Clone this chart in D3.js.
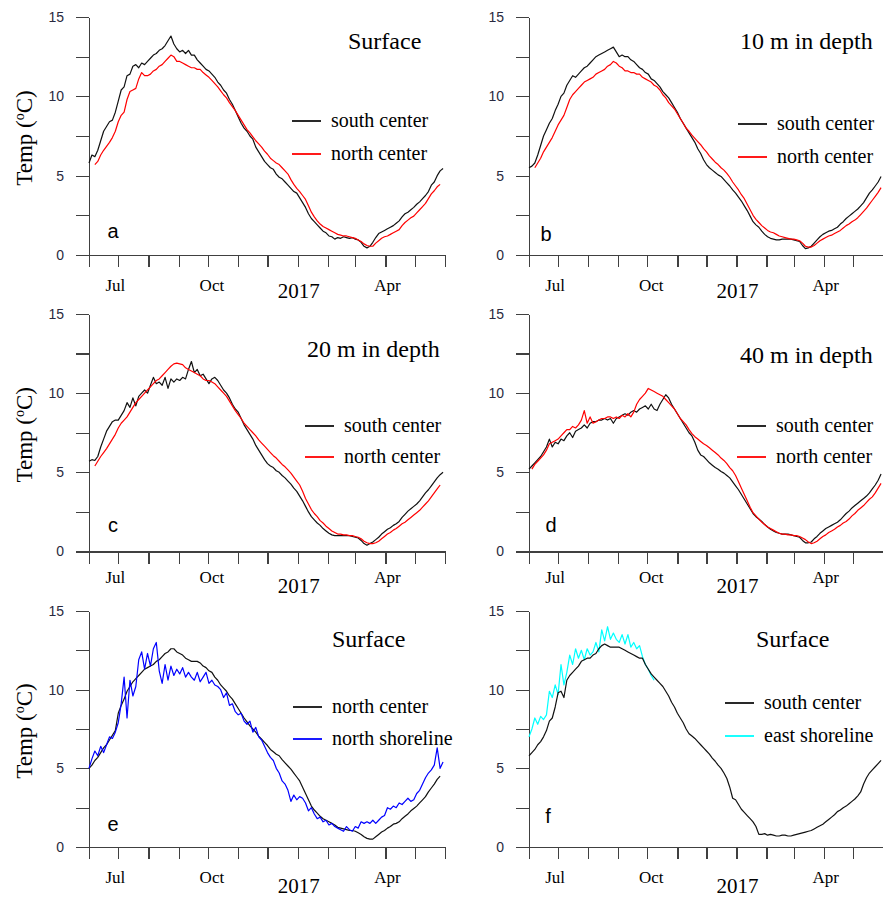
<!DOCTYPE html>
<html>
<head>
<meta charset="utf-8">
<script src="https://cdn.jsdelivr.net/npm/d3@7"></script>
<style>
  body { margin: 0; background: #fff; }
  .axis path, .axis line { stroke: #404040; stroke-width: 1.3; shape-rendering: crispEdges; }
  .axis text { font-family: "Liberation Sans", Arial, sans-serif; font-size: 14px; fill: #2a2a40; }
  .serif { font-family: "Liberation Serif", "Times New Roman", serif; fill: #000; }
</style>
</head>
<body>
<svg width="883" height="899"></svg>
<script>
// sampling days (days after 1 Jun 2016)
var sampleDays = [0,3,6,9,12,15,18,21,24,27, 30,33,36,39,42,45,48,51,54,57,
  60,63,66,69,72,75,78,81,84,87, 90,93,96,99,102,105,108,111,114,117,
  120,123,126,129,132,135,138,141,144,147, 150,153,156,159,162,165,168,171,174,177,
  180,183,186,189,192,195,198,201,204,207, 210,213,216,219,222,225,228,231,234,237,
  240,243,246,249,252,255,258,261,264,267, 270,273,276,279,282,285,288,291,294,297,
  300,303,306,309,312,315,318,321,324,327, 330,333,336,339,342,345,348,351,354,357,
  360,363];

// temperatures (degC)
var southA = [5.8,6.3,6.2,6.6,7.2,7.8,8.1,8.4,8.5,9.0, 9.7,10.4,10.6,11.3,11.4,11.9,12.0,11.8,12.1,12.0,
  12.2,12.4,12.6,12.7,12.9,13.0,13.2,13.5,13.8,13.3, 13.0,12.8,12.9,12.7,12.9,12.6,12.6,12.3,12.1,11.9,
  11.7,11.6,11.4,11.2,10.9,10.7,10.4,10.2,9.8,9.5, 9.1,8.7,8.3,8.0,7.8,7.5,7.3,6.8,6.5,6.2,
  5.9,5.7,5.5,5.4,5.1,4.9,4.8,4.6,4.4,4.2, 4.0,3.9,3.6,3.3,3.0,2.6,2.3,2.1,1.9,1.7,
  1.5,1.4,1.2,1.15,1.0,1.1,1.05,1.15,1.1,1.05, 1.1,1.0,0.95,0.8,0.55,0.45,0.55,0.8,1.1,1.35,
  1.45,1.55,1.65,1.75,1.85,2.0,2.15,2.4,2.6,2.7, 2.85,3.0,3.2,3.35,3.55,3.75,4.0,4.4,4.6,5.0,
  5.3,5.45];
var northA = [null,null,5.7,5.9,6.3,6.6,6.85,7.1,7.4,7.8, 8.4,8.8,9.0,9.8,10.3,10.4,10.5,11.1,11.5,11.3,
  11.3,11.4,11.6,11.7,11.9,12.0,12.2,12.4,12.6,12.5, 12.2,12.2,12.1,12.0,11.9,11.8,11.8,11.7,11.7,11.5,
  11.35,11.2,11.0,10.8,10.6,10.35,10.1,9.9,9.6,9.35, 9.1,8.8,8.5,8.2,7.9,7.7,7.45,7.2,7.0,6.8,
  6.55,6.35,6.1,5.95,5.8,5.7,5.5,5.3,5.1,4.75, 4.45,4.2,4.0,3.75,3.5,3.1,2.7,2.4,2.15,1.95,
  1.8,1.7,1.6,1.5,1.4,1.3,1.25,1.2,1.2,1.15, 1.1,1.05,0.95,0.85,0.7,0.6,0.55,0.55,0.75,0.9,
  1.05,1.15,1.2,1.3,1.4,1.5,1.6,1.85,2.05,2.2, 2.35,2.45,2.65,2.85,3.05,3.25,3.55,3.85,4.05,4.3,
  4.45,null];

var southB = [5.5,5.6,5.8,6.3,6.9,7.5,7.9,8.3,8.6,9.1, 9.5,10.0,10.2,10.7,11.0,11.3,11.2,11.4,11.6,11.8,
  11.9,12.1,12.3,12.5,12.6,12.7,12.8,12.9,13.0,13.1, 12.8,12.5,12.6,12.5,12.5,12.3,12.2,12.0,11.8,11.7,
  11.5,11.4,11.1,11.0,10.8,10.6,10.3,10.1,9.9,9.6, 9.3,9.0,8.6,8.3,8.0,7.7,7.4,7.1,6.7,6.4,
  6.0,5.7,5.5,5.35,5.2,5.05,4.95,4.75,4.55,4.35, 4.1,3.9,3.65,3.4,3.1,2.8,2.45,2.1,1.9,1.75,
  1.5,1.3,1.15,1.05,1.0,0.95,0.95,1.0,1.0,1.0, 1.0,0.95,0.9,0.85,0.6,0.4,0.45,0.55,0.75,0.95,
  1.15,1.3,1.4,1.5,1.55,1.65,1.75,1.95,2.1,2.3, 2.45,2.6,2.75,2.9,3.1,3.3,3.6,3.9,4.1,4.35,
  4.6,4.95];
var northB = [null,null,5.5,5.8,6.1,6.5,6.8,7.1,7.4,7.8, 8.2,8.5,8.8,9.3,9.8,10.1,10.3,10.5,10.7,10.9,
  11.0,11.1,11.2,11.4,11.5,11.6,11.7,11.9,12.0,12.2, 12.1,11.9,11.8,11.6,11.6,11.5,11.5,11.4,11.4,11.2,
  11.1,11.0,10.9,10.7,10.6,10.4,10.1,9.9,9.6,9.4, 9.2,8.9,8.6,8.3,8.0,7.8,7.55,7.35,7.15,6.95,
  6.7,6.5,6.25,6.05,5.85,5.7,5.5,5.35,5.15,4.9, 4.6,4.35,4.1,3.8,3.55,3.2,2.85,2.5,2.25,2.05,
  1.85,1.7,1.55,1.45,1.4,1.3,1.2,1.15,1.1,1.05, 1.0,1.0,0.95,0.9,0.75,0.55,0.5,0.5,0.6,0.75,
  0.9,1.0,1.1,1.2,1.25,1.35,1.45,1.55,1.7,1.85, 1.95,2.1,2.2,2.35,2.55,2.75,2.95,3.2,3.45,3.7,
  3.95,4.25];

var southC = [5.7,5.8,5.75,6.0,6.6,7.1,7.6,7.9,8.2,8.3, 8.3,8.6,8.9,9.4,9.1,9.7,9.2,9.8,10.0,10.2,
  10.0,10.5,11.0,10.6,10.7,10.5,11.0,10.3,10.9,10.7, 10.9,10.8,11.0,10.9,11.5,12.0,11.3,11.5,11.1,11.2,
  10.9,10.6,10.9,11.0,10.8,10.5,10.2,10.0,9.7,9.3, 9.0,8.8,8.4,8.0,7.7,7.4,7.1,6.7,6.4,6.1,
  5.8,5.55,5.4,5.3,5.1,5.0,4.8,4.65,4.45,4.25, 4.0,3.8,3.5,3.2,2.85,2.5,2.2,2.0,1.8,1.65,
  1.45,1.3,1.15,1.05,1.0,1.0,1.0,1.0,1.0,1.0, 0.95,0.9,0.85,0.7,0.5,0.4,0.5,0.6,0.75,0.9,
  1.1,1.25,1.4,1.5,1.65,1.75,1.9,2.15,2.35,2.55, 2.7,2.85,3.0,3.2,3.45,3.7,3.9,4.15,4.4,4.65,
  4.85,5.0];
var northC = [null,null,5.4,5.7,6.0,6.25,6.5,6.8,7.1,7.4, 7.8,8.1,8.3,8.5,8.8,9.1,9.4,9.6,9.8,10.0,
  10.2,10.4,10.6,10.8,10.9,11.1,11.3,11.5,11.7,11.85, 11.9,11.85,11.8,11.6,11.5,11.4,11.3,11.2,11.1,10.9,
  10.8,10.8,10.7,10.6,10.4,10.2,10.0,9.8,9.5,9.2, 8.9,8.65,8.4,8.1,7.9,7.7,7.5,7.3,7.05,6.85,
  6.65,6.45,6.25,6.05,5.9,5.7,5.5,5.35,5.15,4.95, 4.7,4.45,4.2,3.8,3.35,3.0,2.65,2.4,2.2,1.95,
  1.8,1.6,1.45,1.3,1.2,1.1,1.1,1.05,1.05,1.0, 1.0,0.95,0.9,0.8,0.65,0.55,0.5,0.5,0.55,0.65,
  0.8,0.95,1.1,1.2,1.35,1.45,1.6,1.75,1.85,2.0, 2.15,2.3,2.45,2.6,2.8,3.0,3.2,3.45,3.7,3.95,
  4.2,null];

var southD = [5.2,5.4,5.6,5.8,6.0,6.3,6.6,7.1,6.6,6.9, 6.8,7.1,7.0,7.3,7.5,7.2,7.6,7.7,7.8,8.0,
  7.8,8.1,8.2,8.2,8.3,8.3,8.4,8.3,8.4,8.1, 8.4,8.5,8.6,8.7,8.6,8.8,8.9,8.8,9.0,9.1,
  9.2,9.0,9.3,9.0,8.9,9.3,9.6,9.9,9.7,9.3, 9.0,8.7,8.4,8.1,7.8,7.5,7.3,6.9,6.4,6.1,
  6.0,5.8,5.6,5.45,5.3,5.2,5.05,4.95,4.8,4.65, 4.4,4.15,3.9,3.6,3.3,3.0,2.7,2.4,2.2,2.05,
  1.9,1.7,1.55,1.4,1.3,1.2,1.15,1.1,1.1,1.1, 1.05,1.0,0.95,0.9,0.7,0.55,0.55,0.6,0.8,0.95,
  1.15,1.3,1.45,1.55,1.65,1.75,1.85,2.0,2.2,2.4, 2.55,2.75,2.9,3.05,3.2,3.35,3.5,3.7,3.95,4.2,
  4.5,4.9];
var northD = [null,5.2,5.5,5.7,5.9,6.1,6.4,6.8,6.9,7.0, 7.1,7.3,7.5,7.7,7.7,7.9,7.8,8.0,8.3,8.9,
  8.1,8.5,8.1,8.2,8.3,8.4,8.4,8.5,8.5,8.4, 8.5,8.4,8.6,8.5,8.7,8.5,8.8,9.3,9.6,9.8,
  10.0,10.3,10.2,10.1,10.0,9.9,9.8,9.6,9.4,9.2, 9.0,8.7,8.4,8.2,8.0,7.7,7.45,7.25,7.1,6.95,
  6.8,6.7,6.55,6.4,6.25,6.1,5.9,5.75,5.55,5.3, 5.1,4.8,4.4,4.0,3.6,3.2,2.8,2.45,2.25,2.05,
  1.85,1.7,1.55,1.45,1.35,1.25,1.15,1.1,1.1,1.05, 1.05,1.0,1.0,0.95,0.85,0.75,0.6,0.5,0.55,0.65,
  0.8,0.95,1.05,1.2,1.3,1.4,1.55,1.65,1.8,1.9, 2.05,2.25,2.4,2.6,2.75,2.9,3.1,3.3,3.45,3.7,
  4.0,4.3];

var northE = [5.0,5.2,5.5,5.7,6.0,6.3,6.5,6.8,7.1,7.4, 8.5,9.0,9.4,9.9,10.2,10.5,10.7,10.9,11.1,11.3,
  11.4,11.5,11.6,11.8,11.9,12.1,12.3,12.4,12.6,12.6, 12.4,12.3,12.2,12.0,11.9,11.8,11.8,11.8,11.7,11.5,
  11.4,11.2,11.1,10.8,10.6,10.3,10.1,9.9,9.6,9.4, 9.1,8.8,8.5,8.2,7.95,7.7,7.5,7.3,7.05,6.85,
  6.65,6.45,6.2,6.05,5.9,5.8,5.55,5.35,5.15,4.95, 4.7,4.45,4.2,3.8,3.4,3.0,2.6,2.35,2.15,1.95,
  1.8,1.7,1.6,1.5,1.4,1.25,1.2,1.15,1.1,1.05, 1.05,1.0,0.9,0.8,0.65,0.55,0.5,0.5,0.65,0.8,
  0.95,1.05,1.2,1.3,1.45,1.5,1.6,1.8,1.95,2.1, 2.3,2.45,2.6,2.8,3.0,3.2,3.5,3.75,4.0,4.3,
  4.5,null];
var shoreE = [5.0,5.6,6.1,5.8,6.4,6.0,6.5,7.0,6.9,7.3, 7.9,9.1,10.8,8.2,10.6,9.6,10.2,11.9,12.4,11.3,
  12.3,11.5,12.6,13.0,11.2,10.4,11.6,10.6,11.5,10.9, 11.3,11.0,11.4,10.8,11.1,10.8,10.6,11.1,10.5,10.8,
  11.1,10.4,10.6,10.3,10.2,10.0,9.5,9.8,9.0,9.1, 8.6,8.4,8.5,8.0,7.8,8.0,7.3,7.6,7.0,6.8,
  6.4,6.0,5.7,5.5,5.0,4.7,4.2,4.0,3.6,2.9, 3.3,3.0,3.2,3.1,2.8,2.3,2.5,2.1,1.8,1.9,
  1.6,1.7,1.4,1.5,1.3,1.2,1.1,1.0,1.3,1.1, 1.0,1.3,1.2,1.6,1.5,1.6,1.5,1.7,1.5,1.7,
  1.9,2.0,2.5,2.4,2.6,2.5,2.8,2.7,2.9,3.1, 2.9,3.0,3.4,3.6,4.0,4.4,4.7,4.9,5.2,6.3,
  5.0,5.4];

var southF = [5.8,6.0,6.2,6.5,6.7,7.0,7.4,8.0,8.2,8.9, 9.8,9.9,9.5,10.6,10.9,11.1,11.3,11.5,11.8,11.9,
  12.0,12.0,12.2,12.3,12.6,12.8,12.9,12.8,12.7,12.7, 12.7,12.7,12.6,12.5,12.4,12.3,12.2,12.1,12.0,12.0,
  11.6,11.3,11.0,10.8,10.6,10.4,10.2,9.9,9.6,9.2, 8.9,8.5,8.2,7.9,7.5,7.2,7.05,6.9,6.7,6.5,
  6.3,6.1,5.9,5.65,5.45,5.2,5.0,4.7,4.35,3.8, 3.1,3.0,2.7,2.4,2.2,2.0,1.8,1.6,1.3,0.8,
  0.8,0.85,0.75,0.8,0.75,0.7,0.7,0.75,0.75,0.7, 0.7,0.75,0.8,0.85,0.9,0.95,1.0,1.05,1.15,1.25,
  1.35,1.45,1.6,1.75,1.9,2.05,2.25,2.35,2.5,2.6, 2.75,2.9,3.05,3.25,3.5,4.0,4.4,4.7,4.9,5.1,
  5.3,5.5];
var shoreF = [7.0,7.5,8.2,7.8,8.3,8.1,8.4,9.9,9.5,10.3, 9.7,11.6,10.3,11.1,12.2,11.6,12.6,12.0,12.5,11.9,
  12.6,12.2,12.4,13.0,12.4,13.8,13.1,14.0,13.2,13.6, 13.2,13.0,13.5,12.9,13.5,12.7,13.0,12.6,12.8,12.1,
  11.6,11.3,10.9,10.6];

// axis labels
var yTickValues = [0, 2.5, 5, 7.5, 10, 12.5, 15];
var monthLabels = ["Jul", "Oct", "Apr"];
var monthLabelDates = ["2016-06-28", "2016-10-05", "2017-04-03"];
var yearLabel = "2017";
var yearLabelDate = "2017-01-02";

var panels = [
  {letter: "a", title: "Surface", series: [
    {name: "south center", values: southA, color: "#111"},
    {name: "north center", values: northA, color: "#ff0000"}]},
  {letter: "b", title: "10 m in depth", series: [
    {name: "south center", values: southB, color: "#111"},
    {name: "north center", values: northB, color: "#ff0000"}]},
  {letter: "c", title: "20 m in depth", series: [
    {name: "south center", values: southC, color: "#111"},
    {name: "north center", values: northC, color: "#ff0000"}]},
  {letter: "d", title: "40 m in depth", series: [
    {name: "south center", values: southD, color: "#111"},
    {name: "north center", values: northD, color: "#ff0000"}]},
  {letter: "e", title: "Surface", series: [
    {name: "north center", values: northE, color: "#111"},
    {name: "north shoreline", values: shoreE, color: "#0000ff"}]},
  {letter: "f", title: "Surface", series: [
    {name: "south center", values: southF, color: "#111"},
    {name: "east shoreline", values: shoreF, color: "#00ffff"}], drawOrder: [1, 0]}
];

// where things sit on the page
var cols = [{x0: 89, x1: 445}, {x0: 529, x1: 883}];
var rows = [
  {top: 17, bottom: 255, monthDy: 36, yearDy: 43},
  {top: 314, bottom: 551.5, monthDy: 31.5, yearDy: 41.5},
  {top: 611, bottom: 847, monthDy: 36, yearDy: 46}
];
var placement = {
  a: {title: [348, 49], letter: [113, 238], legend: [292, 121, 33]},
  b: {title: [740, 49], letter: [546, 241], legend: [738, 124, 33]},
  c: {title: [307, 357], letter: [113, 532], legend: [305, 426, 31]},
  d: {title: [740, 363], letter: [551, 532], legend: [737, 426, 31]},
  e: {title: [332, 647], letter: [113, 831], legend: [293, 707, 32]},
  f: {title: [756, 647], letter: [548, 823], legend: [725, 703, 33]}
};

var svg = d3.select("svg");
var startDate = new Date(2016, 5, 1);
var endDate = new Date(2017, 5, 1);
var parseDate = d3.timeParse("%Y-%m-%d");

panels.forEach(function(p, i) {
  var col = cols[i % 2], row = rows[Math.floor(i / 2)], pos = placement[p.letter];

  var x = d3.scaleTime().domain([startDate, endDate]).range([col.x0, col.x1]);
  var y = d3.scaleLinear().domain([0, 15]).range([row.bottom, row.top]);

  var g = svg.append("g").attr("class", "panel-" + p.letter);

  // y axis
  g.append("g")
      .attr("class", "axis")
      .attr("transform", "translate(" + col.x0 + ",0)")
      .call(d3.axisLeft(y)
        .tickValues(yTickValues)
        .tickSize(13)
        .tickSizeOuter(0)
        .tickPadding(12)
        .tickFormat(function(d) { return d % 5 === 0 ? d : ""; }));

  // x axis, one tick per month
  g.append("g")
      .attr("class", "axis")
      .attr("transform", "translate(0," + row.bottom + ")")
      .call(d3.axisBottom(x)
        .ticks(d3.timeMonth.every(1))
        .tickSize(12)
        .tickSizeOuter(0)
        .tickFormat(""));

  g.selectAll(".month")
    .data(monthLabels)
    .enter().append("text")
      .attr("class", "serif")
      .attr("x", function(d, k) { return x(parseDate(monthLabelDates[k])); })
      .attr("y", row.bottom + row.monthDy)
      .attr("text-anchor", "middle")
      .style("font-size", "17px")
      .text(function(d) { return d; });

  g.append("text")
      .attr("class", "serif")
      .attr("x", x(parseDate(yearLabelDate)))
      .attr("y", row.bottom + row.yearDy)
      .attr("text-anchor", "middle")
      .style("font-size", "21px")
      .text(yearLabel);

  // y label on the left column only
  if (i % 2 === 0) {
    var lab = g.append("text")
        .attr("class", "serif")
        .attr("transform", "translate(32," + ((row.top + row.bottom) / 2 + 2) + ") rotate(-90)")
        .attr("text-anchor", "middle")
        .style("font-size", "23px");
    lab.append("tspan").text("Temp (");
    lab.append("tspan").attr("dy", -8).style("font-size", "14px").text("o");
    lab.append("tspan").attr("dy", 8).text("C)");
  }

  // lines
  var line = d3.line()
      .defined(function(d) { return d.v != null; })
      .x(function(d) { return x(d3.timeDay.offset(startDate, d.day)); })
      .y(function(d) { return y(d.v); });

  var order = p.drawOrder || [0, 1];
  order.forEach(function(k) {
    var s = p.series[k];
    var pts = sampleDays.map(function(day, j) { return {day: day, v: s.values[j]}; });
    g.append("path")
        .datum(pts)
        .attr("fill", "none")
        .attr("stroke", s.color)
        .attr("stroke-width", 1.2)
        .attr("stroke-linejoin", "round")
        .attr("d", line);
  });

  // title and panel letter
  g.append("text")
      .attr("class", "serif")
      .attr("x", pos.title[0])
      .attr("y", pos.title[1])
      .style("font-size", "24px")
      .text(p.title);

  g.append("text")
      .attr("x", pos.letter[0])
      .attr("y", pos.letter[1])
      .attr("text-anchor", "middle")
      .style("font-family", "'Liberation Sans', Arial, sans-serif")
      .style("font-size", "20px")
      .text(p.letter);

  // legend
  var leg = g.selectAll(".legend")
    .data(p.series)
    .enter().append("g")
      .attr("transform", function(d, k) {
        return "translate(" + pos.legend[0] + "," + (pos.legend[1] + k * pos.legend[2]) + ")";
      });
  leg.append("line")
      .attr("x1", 0).attr("x2", 29)
      .attr("stroke", function(d) { return d.color; })
      .attr("stroke-width", 1.8);
  leg.append("text")
      .attr("class", "serif")
      .attr("x", 39)
      .attr("y", 6)
      .style("font-size", "20px")
      .text(function(d) { return d.name; });
});
</script>
</body>
</html>
